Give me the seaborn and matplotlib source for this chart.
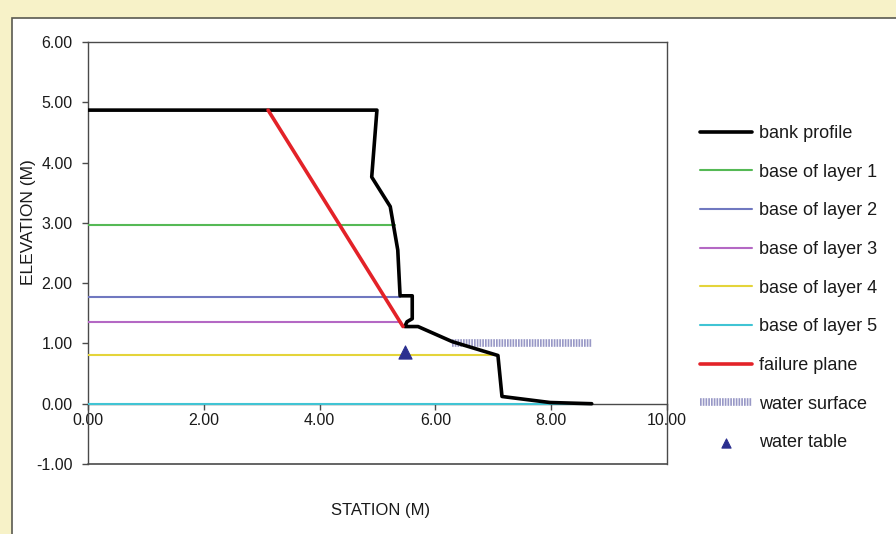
import matplotlib
matplotlib.use('Agg')
import matplotlib.pyplot as plt
from matplotlib.patches import Rectangle
import seaborn as sns

# Bank profile (station, elevation) in metres
bank_x = [0.00, 4.99, 4.90, 5.22, 5.35, 5.39, 5.60, 5.60, 5.51, 5.47, 5.70, 6.29, 7.08, 7.15, 7.98, 8.70]
bank_y = [4.87, 4.87, 3.76, 3.27, 2.55, 1.79, 1.79, 1.41, 1.36, 1.28, 1.28, 1.03, 0.80, 0.12, 0.02, 0.00]

# Layer bases: elevation and station where the line ends
layer_names = ['base of layer 1', 'base of layer 2', 'base of layer 3', 'base of layer 4', 'base of layer 5']
layer_elev = [2.97, 1.77, 1.36, 0.80, 0.00]
layer_end = [5.30, 5.39, 5.40, 7.08, 8.70]
layer_colors = ['#55b955', '#7078c0', '#b468c4', '#e4d43a', '#40c4d4']

failure_x = [3.11, 5.44]
failure_y = [4.87, 1.28]

water_surface_x = [6.29, 8.70]
water_surface_y = [1.01, 1.01]

water_table_x = [5.47]
water_table_y = [0.86]

x_ticks = [0, 2, 4, 6, 8, 10]
y_ticks = [-1, 0, 1, 2, 3, 4, 5, 6]

sns.set_theme(style='white')
plt.rcParams['font.family'] = ['Liberation Sans', 'DejaVu Sans']

fig = plt.figure(figsize=(8.96, 5.34), dpi=100)
fig.patch.set_facecolor('#f7f2c8')
# white chart area inside the yellow frame
fig.patches.append(Rectangle((12 / 896, -0.01), 1.0, 1 - 18 / 534 + 0.01, transform=fig.transFigure,
                             facecolor='white', edgecolor='#5a5a50', linewidth=1.2, zorder=-10))

ax = fig.add_axes([88 / 896, 1 - 464 / 534, 579 / 896, 422 / 534])
ax.set_facecolor('none')

sns.lineplot(x=bank_x, y=bank_y, sort=False, estimator=None, ax=ax, color='black',
             linewidth=2.6, label='bank profile', zorder=4)
for name, elev, end, col in zip(layer_names, layer_elev, layer_end, layer_colors):
    sns.lineplot(x=[0, end], y=[elev, elev], sort=False, estimator=None, ax=ax, color=col,
                 linewidth=1.5, label=name, zorder=3)
sns.lineplot(x=failure_x, y=failure_y, sort=False, estimator=None, ax=ax, color='#e32228',
             linewidth=2.6, label='failure plane', zorder=5)
sns.lineplot(x=water_surface_x, y=water_surface_y, sort=False, estimator=None, ax=ax,
             color='#9898c6', linewidth=5.5, dashes=False, label='water surface', zorder=3)
ax.lines[-1].set_linestyle((0, (0.22, 0.14)))
sns.scatterplot(x=water_table_x, y=water_table_y, ax=ax, marker='^', s=90, color='#2b2f8f',
                edgecolor='#2b2f8f', label='water table', zorder=6)

ax.set_xlim(0, 10)
ax.set_ylim(-1, 6)
ax.set_xticks(x_ticks)
ax.set_yticks(y_ticks)
ax.set_xticklabels([f'{v:.2f}' for v in x_ticks])
ax.set_yticklabels([f'{v:.2f}' for v in y_ticks])
ax.set_xlabel('')
ax.set_ylabel('')

spine_col = '#4a4a4a'
for s in ax.spines.values():
    s.set_color(spine_col)
    s.set_linewidth(1.0)
ax.spines['bottom'].set_position(('data', 0))
ax.axhline(-1, color=spine_col, linewidth=1.2, clip_on=False, zorder=1)

ax.tick_params(axis='both', which='major', direction='out', length=4, width=1,
               color=spine_col, labelsize=11.5, labelcolor='#1a1a1a', bottom=True, left=True)
ax.tick_params(axis='x', pad=3)
ax.tick_params(axis='y', pad=7)

fig.text(28 / 896, 1 - 222 / 534, 'ELEVATION (M)', rotation=90, ha='center', va='center',
         fontsize=12.5, color='#1a1a1a')
fig.text(381 / 896, 1 - 510 / 534, 'STATION (M)', ha='center', va='center',
         fontsize=12, color='#1a1a1a')

leg = ax.legend(loc='upper left', bbox_to_anchor=(700 / 896, 1 - 125 / 534),
                bbox_transform=fig.transFigure, frameon=False, fontsize=13,
                handlelength=2.9, handletextpad=0.35, labelspacing=1.2, borderpad=0,
                borderaxespad=0, markerscale=0.7)
for t in leg.get_texts():
    t.set_color('#1a1a1a')

fig.savefig('out.png', dpi=100, facecolor=fig.get_facecolor())
